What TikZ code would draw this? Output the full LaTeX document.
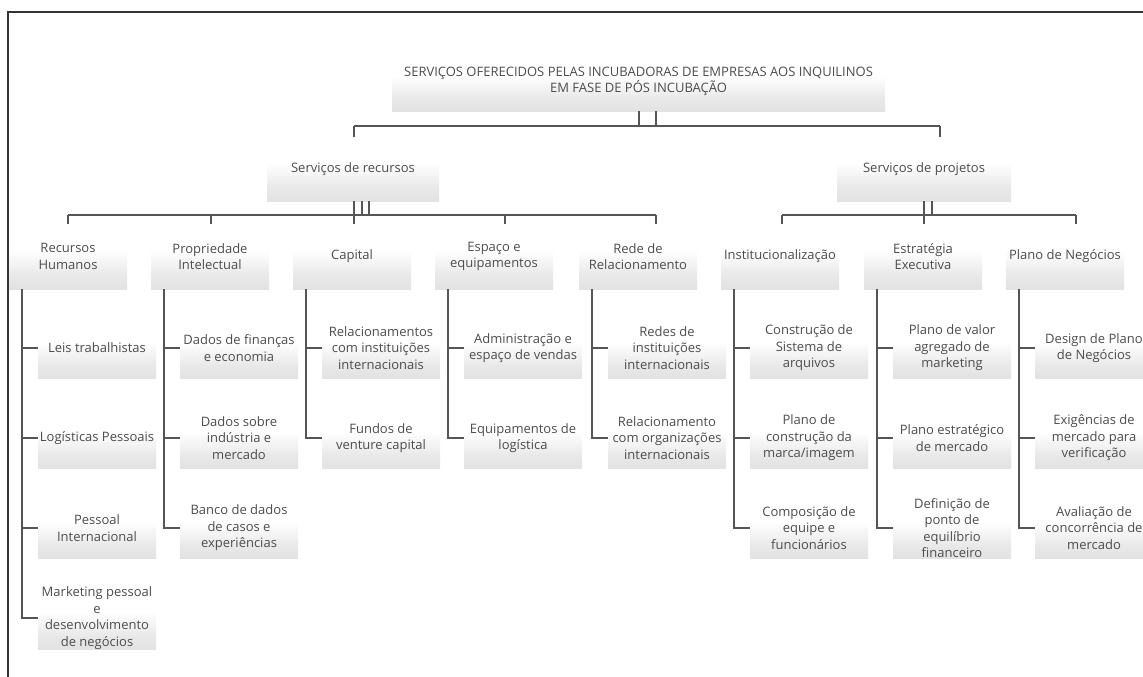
\documentclass[tikz,border=0pt]{standalone}
\usepackage{fontspec}
\setmainfont{Open Sans}
\usetikzlibrary{calc}
\definecolor{txt}{HTML}{4D4D4D}
\definecolor{ln}{HTML}{555555}
\definecolor{frm}{HTML}{333333}
\pgfdeclareverticalshading{boxshade}{100bp}{color(0bp)=(black!17); color(35bp)=(black!9); color(55bp)=(white); color(100bp)=(white)}
\tikzset{
  bx/.style={shading=boxshade, draw=none, text=txt, font=\fontsize{13}{16.5}\selectfont,
    align=center, inner sep=0pt, minimum width=118pt, minimum height=60pt},
  lvtwo/.style={bx, minimum height=65pt},
  lvone/.style={bx, minimum height=64pt},
  conn/.style={draw=ln, line width=1.3pt},
  frame/.style={draw=frm, line width=1.4pt}
}
\begin{document}
\begin{tikzpicture}[x=1pt,y=-1pt]
\useasboundingbox (0,0) rectangle (1143,677);
\clip (0,0) rectangle (1143,677);
\fill[white] (0,0) rectangle (1143,677);

% root and level 1
\node[bx, minimum width=493pt, minimum height=59pt, font=\fontsize{13}{16}\selectfont] (root) at (638.5,81.5)
  {SERVIÇOS OFERECIDOS PELAS INCUBADORAS DE EMPRESAS AOS INQUILINOS\\EM FASE DE PÓS INCUBAÇÃO};
\node[lvone, minimum width=172pt] (sr) at (353,169) {Serviços de recursos};
\node[lvone, minimum width=174pt] (sp) at (924,169) {Serviços de projetos};

% level 2
\node[lvtwo] (rh) at (68,256.5) {Recursos\\Humanos};
\node[lvtwo] (pi) at (210,256.5) {Propriedade\\Intelectual};
\node[lvtwo] (ca) at (352,256.5) {Capital};
\node[lvtwo] (es) at (494,256.5) {Espaço e\\equipamentos};
\node[lvtwo] (re) at (638,256.5) {Rede de\\Relacionamento};
\node[lvtwo] (in) at (780,256.5) {Institucionalização};
\node[lvtwo] (et) at (923,256.5) {Estratégia\\Executiva};
\node[lvtwo] (pn) at (1065,256.5) {Plano de Negócios};

% level 3
\node[bx] (rh1) at (97,348) {Leis trabalhistas};
\node[bx] (rh2) at (97,438) {Logísticas Pessoais};
\node[bx] (rh3) at (97,528) {Pessoal\\Internacional};
\node[bx] (rh4) at (97,618) {Marketing pessoal\\e\\desenvolvimento\\de negócios};

\node[bx] (pi1) at (239,348) {Dados de finanças\\e economia};
\node[bx] (pi2) at (239,438) {Dados sobre\\indústria e\\mercado};
\node[bx] (pi3) at (239,528) {Banco de dados\\de casos e\\experiências};

\node[bx] (ca1) at (381,348) {Relacionamentos\\com instituições\\internacionais};
\node[bx] (ca2) at (381,438) {Fundos de\\venture capital};

\node[bx] (es1) at (523,348) {Administração e\\espaço de vendas};
\node[bx] (es2) at (523,438) {Equipamentos de\\logística};

\node[bx] (re1) at (667,348) {Redes de\\instituições\\internacionais};
\node[bx] (re2) at (667,438) {Relacionamento\\com organizações\\internacionais};

\node[bx] (in1) at (809,348) {Construção de\\Sistema de\\arquivos};
\node[bx] (in2) at (809,438) {Plano de\\construção da\\marca/imagem};
\node[bx] (in3) at (809,528) {Composição de\\equipe e\\funcionários};

\node[bx] (et1) at (952,348) {Plano de valor\\agregado de\\marketing};
\node[bx] (et2) at (952,438) {Plano estratégico\\de mercado};
\node[bx] (et3) at (952,528) {Definição de\\ponto de\\equilíbrio\\financeiro};

\node[bx] (pn1) at (1094,348) {Design de Plano\\de Negócios};
\node[bx] (pn2) at (1094,438) {Exigências de\\mercado para\\verificação};
\node[bx] (pn3) at (1094,528) {Avaliação de\\concorrência de\\mercado};

% frame
\coordinate (fb) at (8,677);
\coordinate (fc) at (8,12);
\coordinate (fr) at (1143,12);
\draw[frame] (fb) -- (fc) -- (fr);

% root -> level 1
\coordinate (r1) at (639,126);
\coordinate (r2) at (656,126);
\coordinate (rl) at (354,126);
\coordinate (rr) at (940,126);
\draw[conn] (root.south -| r1) -- (r1) -- (r2) -- (root.south -| r2);
\draw[conn] (rl) -- (rr);
\draw[conn] (rl) -- (sr.north -| rl);
\draw[conn] (rr) -- (sp.north -| rr);

% level 1 -> level 2 (left)
\coordinate (a1) at (354,215);
\coordinate (a2) at (362,215);
\coordinate (a3) at (369,215);
\draw[conn] (sr.south -| a1) -- (a1);
\draw[conn] (sr.south -| a2) -- (a2);
\draw[conn] (sr.south -| a3) -- (a3);
\coordinate (k1) at (68,215);
\coordinate (k2) at (211,215);
\coordinate (k3) at (354,215);
\coordinate (k4) at (505,215);
\coordinate (k5) at (656,215);
\draw[conn] (k1) -- (k5);
\draw[conn] (k1) -- (rh.north -| k1);
\draw[conn] (k2) -- (pi.north -| k2);
\draw[conn] (k3) -- (ca.north -| k3);
\draw[conn] (k4) -- (es.north -| k4);
\draw[conn] (k5) -- (re.north -| k5);

% level 1 -> level 2 (right)
\coordinate (b1) at (924,215);
\coordinate (b2) at (932,215);
\draw[conn] (sp.south -| b1) -- (b1);
\draw[conn] (sp.south -| b2) -- (b2);
\coordinate (m1) at (782,215);
\coordinate (m2) at (924,215);
\coordinate (m3) at (1076,215);
\draw[conn] (m1) -- (m3);
\draw[conn] (m1) -- (in.north -| m1);
\draw[conn] (m2) -- (et.north -| m2);
\draw[conn] (m3) -- (pn.north -| m3);

% level 2 -> level 3
\coordinate (v1) at (22,0);
\coordinate (v2) at (164,0);
\coordinate (v3) at (306,0);
\coordinate (v4) at (448,0);
\coordinate (v5) at (592,0);
\coordinate (v6) at (734,0);
\coordinate (v7) at (877,0);
\coordinate (v8) at (1019,0);
\foreach \c in {rh1,rh2,rh3,rh4} \draw[conn] (rh.south -| v1) |- (\c.west);
\foreach \c in {pi1,pi2,pi3} \draw[conn] (pi.south -| v2) |- (\c.west);
\foreach \c in {ca1,ca2} \draw[conn] (ca.south -| v3) |- (\c.west);
\foreach \c in {es1,es2} \draw[conn] (es.south -| v4) |- (\c.west);
\foreach \c in {re1,re2} \draw[conn] (re.south -| v5) |- (\c.west);
\foreach \c in {in1,in2,in3} \draw[conn] (in.south -| v6) |- (\c.west);
\foreach \c in {et1,et2,et3} \draw[conn] (et.south -| v7) |- (\c.west);
\foreach \c in {pn1,pn2,pn3} \draw[conn] (pn.south -| v8) |- (\c.west);
\end{tikzpicture}
\end{document}
